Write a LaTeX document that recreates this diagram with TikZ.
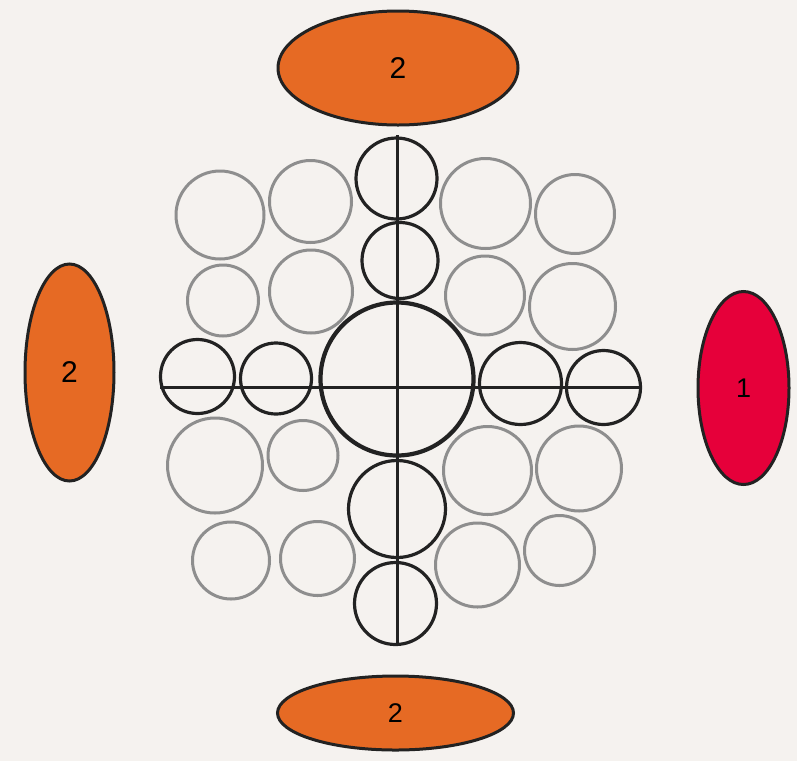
\documentclass[tikz,border=0pt]{standalone}
\usepackage{fontspec}
\setmainfont{Liberation Sans}
\usetikzlibrary{shapes.geometric}
\definecolor{bgc}{HTML}{F5F2EF}
\definecolor{orangec}{HTML}{E66A24}
\definecolor{redc}{HTML}{E6003A}
\definecolor{grayc}{HTML}{8E8E8E}
\definecolor{inkc}{HTML}{222222}
\tikzset{
  blk/.style={circle, draw=inkc, line width=3.2pt, inner sep=0pt, minimum size=#1},
  gry/.style={circle, draw=grayc, line width=3pt, inner sep=0pt, minimum size=#1},
  oval/.style={ellipse, draw=inkc, line width=3pt, inner sep=0pt, text=black},
  axis/.style={draw=inkc, line width=3pt},
  big/.style={font=\fontsize{30}{32}\selectfont},
  small/.style={font=\fontsize{27}{30}\selectfont}
}
\begin{document}
\begin{tikzpicture}[x=1pt,y=-1pt]
\fill[bgc] (0,0) rectangle (797,761);
\useasboundingbox (0,0) rectangle (797,761);

% gray circles
\node[gry=88pt] (g1) at (220,215) {};
\node[gry=82pt] (g2) at (310.5,201.5) {};
\node[gry=90pt] (g3) at (485.5,203.5) {};
\node[gry=79pt] (g4) at (575,214) {};
\node[gry=71pt] (g5) at (223,300.5) {};
\node[gry=83pt] (g6) at (311,291.5) {};
\node[gry=79pt] (g7) at (485,295.5) {};
\node[gry=86pt] (g8) at (572.5,306.5) {};
\node[gry=95pt] (g9) at (215,465.5) {};
\node[gry=70pt] (g10) at (303,455.5) {};
\node[gry=88pt] (g11) at (487.5,470.5) {};
\node[gry=85pt] (g12) at (579,468.5) {};
\node[gry=77pt] (g13) at (231,560.5) {};
\node[gry=74pt] (g14) at (317.5,558.5) {};
\node[gry=84pt] (g15) at (477.5,565) {};
\node[gry=70pt] (g16) at (559.5,550.5) {};

% black circles
\node[blk=81pt] (t1) at (396.5,178.5) {};
\node[blk=76pt] (t2) at (400,260.5) {};
\node[blk=153pt, line width=4.2pt] (c) at (397,379) {};
\node[blk=74pt] (l1) at (197.5,376.5) {};
\node[blk=71pt] (l2) at (276,378.5) {};
\node[blk=82pt] (r1) at (520.5,383.5) {};
\node[blk=74pt] (r2) at (603.5,387.5) {};
\node[blk=97pt] (b1) at (397,509) {};
\node[blk=82pt] (b2) at (395.5,603.5) {};

% axes
\coordinate (vt) at (397,135);
\coordinate (vb) at (397,646);
\coordinate (hl) at (160,387);
\coordinate (hr) at (641,387);
\draw[axis] (vt) -- (vb);
\draw[axis] (hl) -- (hr);

% ellipses
\node[oval, fill=orangec, minimum width=240pt, minimum height=114pt, big] (top) at (398,68) {2};
\node[oval, fill=orangec, minimum width=89pt, minimum height=217pt, big] (left) at (69.5,372.5) {2};
\node[oval, fill=redc, minimum width=91pt, minimum height=193pt, small] (right) at (743.5,388) {1};
\node[oval, fill=orangec, minimum width=236pt, minimum height=74pt, small] (bottom) at (395.5,713) {2};
\end{tikzpicture}
\end{document}
